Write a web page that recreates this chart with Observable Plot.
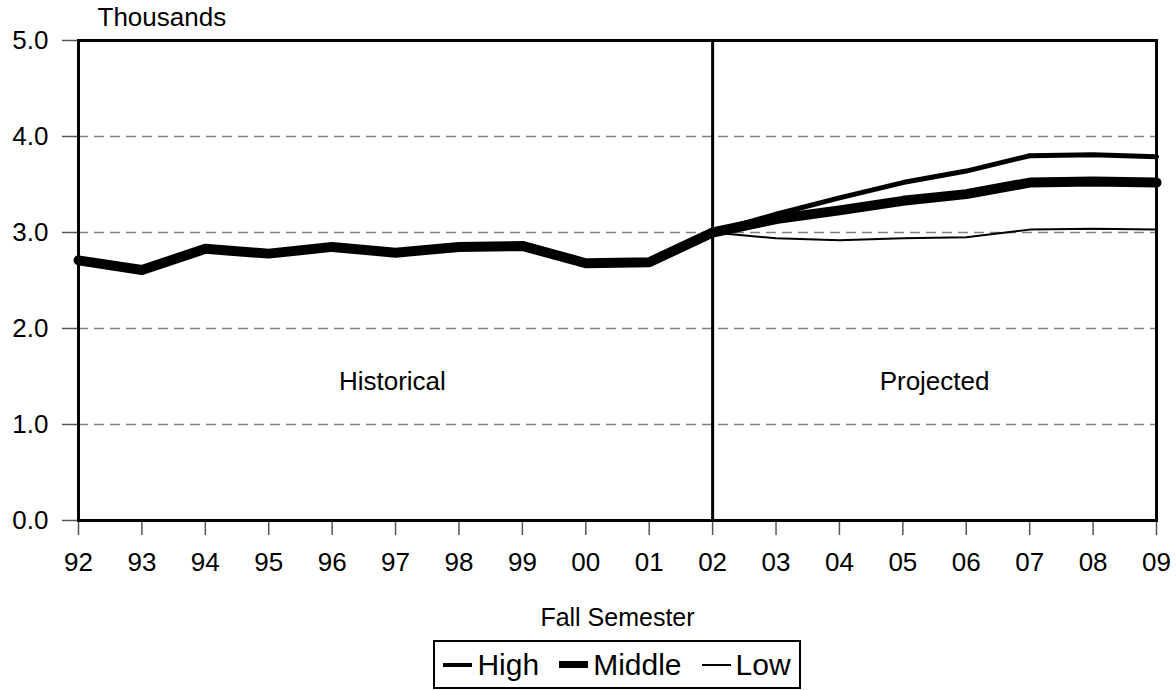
<!DOCTYPE html>
<html>
<head>
<meta charset="utf-8">
<script src="https://cdn.jsdelivr.net/npm/d3@7"></script>
<script src="https://cdn.jsdelivr.net/npm/@observablehq/plot@0.6"></script>
<style>
  body { margin: 0; background: #fff; font-family: "Liberation Sans", Arial, Helvetica, sans-serif; }
  #legendWrap { margin-left: 78px; width: 1078px; display: flex; justify-content: center; margin-top: 8px; }
  #legend { display: inline-flex; align-items: center; border: 2px solid #000; padding: 4px 8px; font-size: 30px; line-height: 37px; color: #000; }
  .item { display: inline-flex; align-items: center; margin-right: 20px; }
  .item:last-child { margin-right: 0; }
  .sw { display: inline-block; width: 29px; background: #000; margin-right: 5px; }
</style>
</head>
<body>
<div id="chart"></div>
<div id="legendWrap"><div id="legend"></div></div>
<script>
// Data (thousands), fall semester
const histYears = [1992, 1993, 1994, 1995, 1996, 1997, 1998, 1999, 2000, 2001, 2002];
const histValues = [2.71, 2.61, 2.83, 2.78, 2.85, 2.79, 2.85, 2.86, 2.68, 2.69, 3.00];
const projYears = [2002, 2003, 2004, 2005, 2006, 2007, 2008, 2009];
const highValues = [3.00, 3.19, 3.36, 3.52, 3.64, 3.80, 3.81, 3.79];
const middleValues = [3.00, 3.14, 3.23, 3.33, 3.40, 3.52, 3.53, 3.52];
const lowValues = [3.00, 2.94, 2.92, 2.94, 2.95, 3.03, 3.04, 3.03];
const yTicks = [0, 1, 2, 3, 4, 5];
const gridValues = [1, 2, 3, 4];
const xTicks = [1992, 1993, 1994, 1995, 1996, 1997, 1998, 1999, 2000, 2001, 2002, 2003, 2004, 2005, 2006, 2007, 2008, 2009];
const dividerYear = [2002];
const periodLabels = ["Historical", "Projected"];
const periodX = [1996.95, 2005.5];
const periodY = [1.45, 1.45];
const seriesNames = ["High", "Middle", "Low"];
const seriesWidths = [5, 10, 2];
const legendWidths = [4, 7, 2];

const middleAll = histYears.map((y, i) => ({year: y, value: histValues[i]}))
  .concat(projYears.slice(1).map((y, i) => ({year: y, value: middleValues[i + 1]})));
const high = projYears.map((y, i) => ({year: y, value: highValues[i]}));
const low = projYears.map((y, i) => ({year: y, value: lowValues[i]}));
const periods = periodLabels.map((l, i) => ({label: l, x: periodX[i], y: periodY[i]}));

const chart = Plot.plot({
  width: 1176,
  height: 632,
  marginLeft: 78,
  marginRight: 20,
  marginTop: 40,
  marginBottom: 112,
  style: {fontFamily: '"Liberation Sans", Arial, Helvetica, sans-serif', fontSize: "26px", color: "#000", background: "#fff"},
  x: {domain: [1992, 2009]},
  y: {domain: [0, 5]},
  marks: [
    Plot.ruleY(gridValues, {stroke: "#808080", strokeWidth: 1.5, strokeDasharray: "10,6"}),
    Plot.axisX({ticks: xTicks, tickFormat: d => String(d).slice(2), tickSize: 15, tickPadding: 17, stroke: "#555", strokeWidth: 1.5, fontSize: 26, label: null}),
    Plot.axisY({ticks: yTicks, tickFormat: d => d.toFixed(1), tickSize: 16, tickPadding: 14, stroke: "#555", strokeWidth: 1.5, fontSize: 26, label: null}),
    Plot.ruleX(dividerYear, {stroke: "#000", strokeWidth: 3}),
    Plot.line(low, {x: "year", y: "value", stroke: "#000", strokeWidth: seriesWidths[2]}),
    Plot.line(high, {x: "year", y: "value", stroke: "#000", strokeWidth: seriesWidths[0]}),
    Plot.line(middleAll, {x: "year", y: "value", stroke: "#000", strokeWidth: seriesWidths[1]}),
    Plot.text(periods, {x: "x", y: "y", text: "label", fontSize: 26, fill: "#000"}),
    Plot.frame({stroke: "#000", strokeWidth: 3}),
    Plot.text(["Thousands"], {frameAnchor: "top-left", textAnchor: "start", dx: 19, dy: -33, fontSize: 26, fill: "#000"}),
    Plot.text(["Fall Semester"], {frameAnchor: "bottom", dy: 105, fontSize: 25, fill: "#000"})
  ]
});
document.getElementById("chart").appendChild(chart);

const legend = document.getElementById("legend");
seriesNames.forEach((name, i) => {
  const item = document.createElement("span");
  item.className = "item";
  const sw = document.createElement("span");
  sw.className = "sw";
  sw.style.height = legendWidths[i] + "px";
  item.appendChild(sw);
  item.appendChild(document.createTextNode(name));
  legend.appendChild(item);
});
</script>
</body>
</html>
